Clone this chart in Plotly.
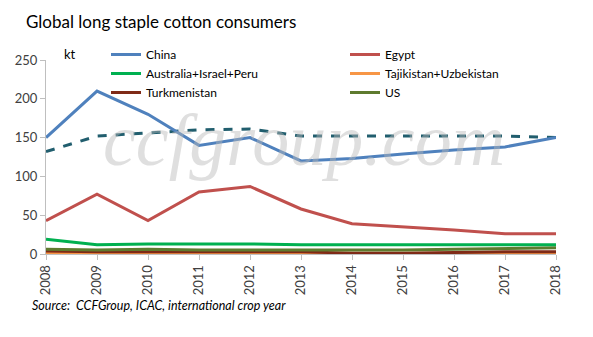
import plotly.graph_objects as go

years = [2008, 2009, 2010, 2011, 2012, 2013, 2014, 2015, 2016, 2017, 2018]
china = [150, 210, 180, 140, 150, 120, 123, 129, 134, 138, 150]
total_dashed = [132, 152, 156, 160, 161, 152, 152, 152, 152, 152, 150]
egypt = [43, 77, 43, 80, 87, 58, 39, 35, 31, 26, 26]
australia = [19, 12, 13, 13, 13, 12, 12, 12, 12, 12, 12]
tajik_uzbek = [1, 1, 1, 1, 1, 1, 1, 1, 1, 1, 1]
turkmenistan = [4, 3, 3, 3, 3, 3, 1, 1, 2, 3, 3]
us = [6, 5, 6, 5, 5, 5, 5, 5, 6, 7, 8]

W, H = 593, 337
L, R, T, B = 46, 37, 60, 83
PW, PH = W - L - R, H - T - B


def px(x):
    return (x - L) / PW


def py(y):
    return (H - B - y) / PH


fig = go.Figure()


def add_line(y, name, color, legend, dash="solid", show=True, rank=None):
    fig.add_trace(go.Scatter(x=years, y=y, name=name, mode="lines",
                             line=dict(color=color, width=3, dash=dash),
                             legend=legend, showlegend=show,
                             legendrank=rank if rank else 1000))


add_line(tajik_uzbek, "Tajikistan+Uzbekistan", "#F79646", "legend2", rank=2)
add_line(turkmenistan, "Turkmenistan", "#7F2A17", "legend", rank=3)
add_line(us, "US", "#5E7A2E", "legend2", rank=3)
add_line(australia, "Australia+Israel+Peru", "#00B050", "legend", rank=2)
add_line(egypt, "Egypt", "#C0504D", "legend2", rank=1)
add_line(total_dashed, "Total", "#215E6E", "legend", dash="dash", show=False)
add_line(china, "China", "#4F81BD", "legend", rank=1)

legend_style = dict(orientation="v", xref="container", yref="container",
                    xanchor="left", yanchor="top", bgcolor="rgba(0,0,0,0)",
                    font=dict(family="Lato", size=12, color="#000000"),
                    itemwidth=30, tracegroupgap=0, traceorder="normal")

fig.update_layout(
    width=W, height=H,
    margin=dict(l=L, r=R, t=T, b=B, autoexpand=False),
    paper_bgcolor="white", plot_bgcolor="white",
    font=dict(family="Lato", color="#595959"),
    title=dict(text="Global long staple cotton consumers", x=26/W, xanchor="left",
               y=1-22/H, yanchor="middle", xref="container", yref="container",
               font=dict(family="Lato", size=17, color="#000000")),
    legend=dict(x=106/W, y=1-40/H, **legend_style),
    legend2=dict(x=345/W, y=1-40/H, **legend_style),
    xaxis=dict(range=[2008, 2018], tickvals=years, ticktext=[str(y) for y in years],
               tickangle=-90, showgrid=False, showline=True, linecolor="#BFBFBF",
               ticks="outside", ticklen=5, tickcolor="#BFBFBF", automargin=False,
               tickfont=dict(family="Lato", size=13, color="#404040"), zeroline=False),
    yaxis=dict(range=[0, 250], tickvals=[0, 50, 100, 150, 200, 250], showgrid=False,
               showline=True, linecolor="#BFBFBF", ticks="outside", ticklen=5,
               tickcolor="#BFBFBF", automargin=False,
               tickfont=dict(family="Lato", size=13, color="#404040"),
               zeroline=False),
    annotations=[
        dict(text="<i>ccfgroup.com</i>", xref="paper", yref="paper",
             x=px(304), y=py(140), xanchor="center", yanchor="middle", showarrow=False,
             font=dict(family="Liberation Serif", size=74, color="rgba(185,185,185,0.45)")),
        dict(text="kt", xref="paper", yref="paper", x=px(62), y=py(54),
             xanchor="left", yanchor="middle", showarrow=False,
             font=dict(family="Lato", size=13, color="#000000")),
        dict(text="<i>Source:  CCFGroup, ICAC, international crop year</i>", xref="paper",
             yref="paper", x=px(30), y=py(305), xanchor="left", yanchor="middle",
             showarrow=False, font=dict(family="Lato", size=12.5, color="#000000")),
    ],
)

fig.write_html("out.html")
